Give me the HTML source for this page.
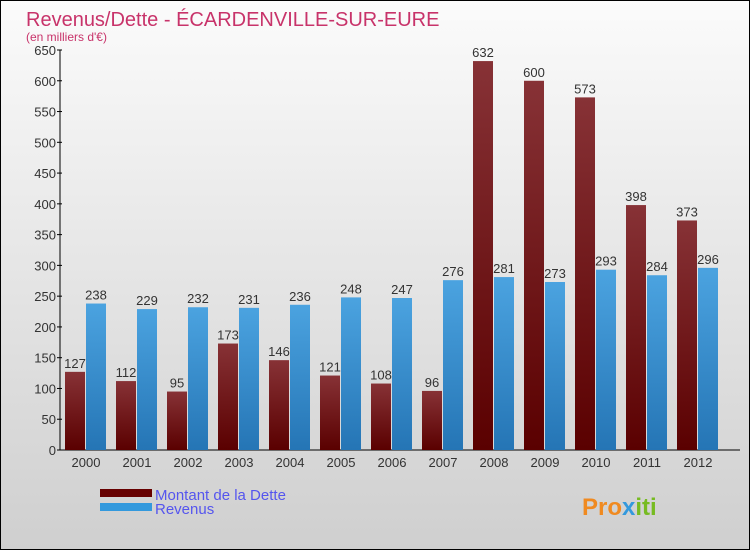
<!DOCTYPE html>
<html><head><meta charset="utf-8"><style>
body{margin:0;}
#c{width:750px;height:550px;}
text{font-family:"Liberation Sans",sans-serif;}
</style></head><body>
<svg id="c" width="750" height="550" xmlns="http://www.w3.org/2000/svg">
<defs>
<linearGradient id="bg" x1="0" y1="0" x2="0" y2="1"><stop offset="0" stop-color="#fbfbfb"/><stop offset="1" stop-color="#cfcfcf"/></linearGradient>
<linearGradient id="gd" x1="0" y1="0" x2="0" y2="1"><stop offset="0" stop-color="#873236"/><stop offset="1" stop-color="#5a0000"/></linearGradient>
<linearGradient id="gr" x1="0" y1="0" x2="0" y2="1"><stop offset="0" stop-color="#4ba3e0"/><stop offset="1" stop-color="#2575b5"/></linearGradient>
</defs>
<rect x="0.5" y="0.5" width="749" height="549" fill="url(#bg)" stroke="#000"/>
<text x="26" y="26" font-size="20" fill="#c8336a">Revenus/Dette - ÉCARDENVILLE-SUR-EURE</text>
<text x="26" y="41" font-size="12" fill="#c8336a">(en milliers d'€)</text>
<g id="axes"></g>
<g id="bars"></g>
<rect x="100" y="489" width="52" height="8" fill="#660000"/>
<text x="155" y="500" font-size="15" fill="#5555ee">Montant de la Dette</text>
<rect x="100" y="503" width="52" height="8" fill="#3399dd"/>
<text x="155" y="514" font-size="15" fill="#5555ee">Revenus</text>
<text x="582" y="515" font-size="24" font-weight="bold" fill="#f08a20">Pro<tspan fill="#3399dd">x</tspan><tspan fill="#77bb22">iti</tspan></text>
</svg>
<script>
const years=["2000","2001","2002","2003","2004","2005","2006","2007","2008","2009","2010","2011","2012"];
const dette=[127,112,95,173,146,121,108,96,632,600,573,398,373];
const revenus=[238,229,232,231,236,248,247,276,281,273,293,284,296];
const ticks=[0,50,100,150,200,250,300,350,400,450,500,550,600,650];
const NS="http://www.w3.org/2000/svg";
const y0=450, scale=400/650;
const y=v=>y0-v*scale;
const xg=i=>65+51*i;
function mk(tag,attrs,parent,txt){const e=document.createElementNS(NS,tag);for(const k in attrs)e.setAttribute(k,attrs[k]);if(txt!==undefined)e.textContent=txt;parent.appendChild(e);return e;}
const ax=document.getElementById('axes'), bg=document.getElementById('bars');
let l=mk('line',{x1:60,y1:y(650),x2:60,y2:y0,stroke:'#000'},ax);


l=mk('line',{x1:60,y1:y0,x2:740,y2:y0,stroke:'#000'},ax);


ticks.forEach(t=>{
 const tk=mk('line',{x1:57,y1:y(t),x2:62,y2:y(t),stroke:'#000'},ax);
 
 
 const tx=mk('text',{x:56,y:y(t)+5,'font-size':13,fill:'#333','text-anchor':'end'},ax,String(t));
 
 
});
years.forEach((yr,i)=>{
 const x=xg(i);
 const tx=mk('text',{x:x+21,y:467,'font-size':13,fill:'#333','text-anchor':'middle'},ax,yr);
 
 
 const b1=mk('rect',{x:x,y:y(dette[i]),width:20,height:dette[i]*scale,fill:'url(#gd)'},bg);
 
 
 const b2=mk('rect',{x:x+21,y:y(revenus[i]),width:20,height:revenus[i]*scale,fill:'url(#gr)'},bg);
 
 
 const v1=mk('text',{x:x+10,y:y(dette[i])-4,'font-size':13,fill:'#333','text-anchor':'middle'},bg,String(dette[i]));
 
 
 const v2=mk('text',{x:x+31,y:y(revenus[i])-4,'font-size':13,fill:'#333','text-anchor':'middle'},bg,String(revenus[i]));
 
 
});
</script>
</body></html>
